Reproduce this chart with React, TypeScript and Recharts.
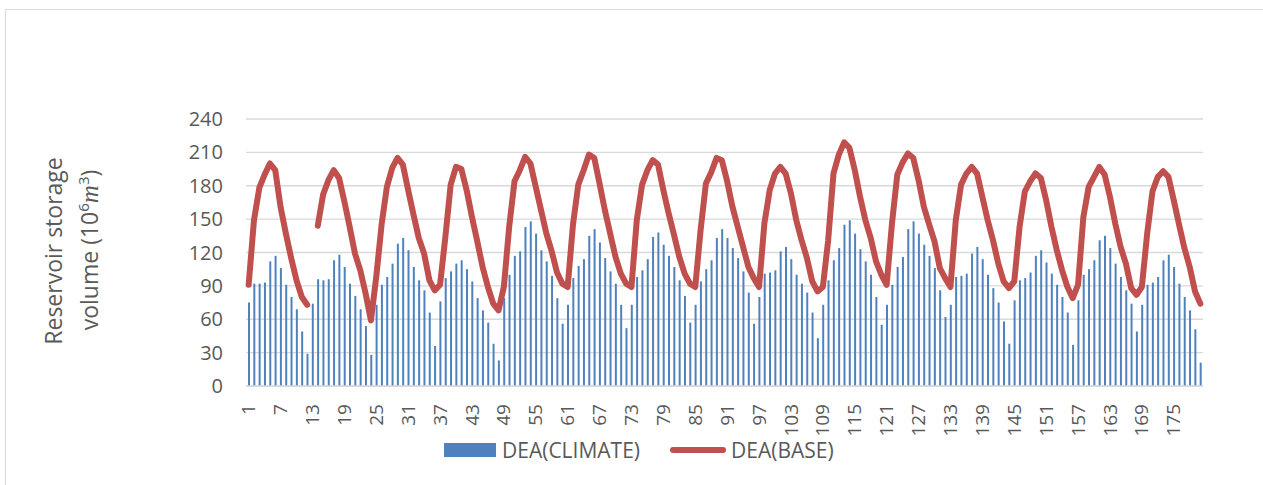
import { Bar, CartesianGrid, ComposedChart, Legend, Line, XAxis, YAxis } from 'recharts';

// month index 1..180
const periods = Array.from({ length: 180 }, (_, i) => String(i + 1));

const climate = [
  75, 92, 92, 93, 112, 117, 106, 91, 80, 69, 49, 29, 74, 96, 95, 96, 113, 118, 107, 92,
  81, 69, 54, 28, 73, 91, 98, 110, 128, 133, 122, 107, 95, 86, 66, 36, 76, 97, 103, 110,
  113, 105, 94, 79, 68, 57, 38, 23, 79, 100, 117, 121, 143, 148, 137, 122, 112, 99, 79, 56,
  73, 97, 108, 114, 135, 141, 129, 115, 103, 92, 73, 52, 73, 98, 104, 114, 134, 138, 127, 117,
  107, 95, 81, 57, 73, 94, 105, 113, 133, 141, 133, 124, 115, 103, 84, 56, 80, 101, 102, 104,
  121, 125, 114, 100, 92, 84, 66, 43, 73, 95, 113, 124, 145, 149, 137, 123, 112, 100, 80, 55,
  73, 91, 107, 116, 141, 148, 137, 127, 117, 106, 86, 62, 73, 98, 99, 101, 119, 125, 114, 100,
  88, 75, 58, 38, 77, 95, 97, 102, 117, 122, 111, 101, 91, 80, 66, 37, 77, 100, 105, 113,
  131, 135, 124, 110, 98, 86, 74, 49, 73, 91, 93, 98, 113, 118, 107, 92, 80, 68, 51, 21,
];

const base: (number | null)[] = [
  91, 149, 178, 190, 200, 194, 161, 137, 115, 95, 80, 73, null, 144, 172, 185, 194, 187, 166, 143,
  119, 104, 83, 59, 98, 145, 179, 196, 205, 199, 176, 154, 133, 119, 95, 86, 91, 134, 181, 197,
  195, 176, 152, 130, 107, 89, 74, 68, 89, 143, 184, 194, 206, 200, 179, 158, 137, 121, 102, 92,
  89, 145, 181, 194, 208, 205, 182, 158, 137, 116, 101, 92, 89, 149, 181, 194, 203, 199, 176, 155,
  136, 116, 101, 92, 89, 140, 182, 192, 205, 203, 184, 161, 143, 125, 107, 97, 89, 146, 176, 191,
  197, 191, 173, 149, 131, 115, 94, 85, 89, 131, 191, 208, 219, 214, 194, 170, 149, 133, 112, 100,
  91, 146, 190, 201, 209, 205, 185, 161, 145, 130, 106, 97, 89, 149, 181, 191, 197, 191, 170, 149,
  131, 110, 94, 88, 94, 143, 175, 184, 191, 187, 167, 143, 122, 104, 89, 79, 91, 152, 179, 188,
  197, 190, 170, 146, 125, 110, 88, 82, 89, 137, 175, 188, 193, 188, 167, 145, 124, 107, 85, 74,
];

const yTicks = [0, 30, 60, 90, 120, 150, 180, 210, 240];

const data = periods.map((p, i) => ({ period: p, climate: climate[i], base: base[i] }));

const FONT = '"Open Sans", sans-serif';
const GRAY = '#595959';
const BLUE = '#4F81BD';
const RED = '#C0504D';
const GRID = '#d9d9d9';

function XTick({ x, y, payload }: any) {
  return (
    <text
      x={x}
      y={y}
      transform={`rotate(-90, ${x}, ${y})`}
      textAnchor="end"
      dy="0.35em"
      fontSize={19}
      fill={GRAY}
      fontFamily={FONT}
    >
      {payload.value}
    </text>
  );
}

function AxisTitle() {
  return (
    <g fill={GRAY} fontFamily={FONT} fontSize={23}>
      <text x={54} y={251} transform="rotate(-90, 54, 251)" textAnchor="middle" dy="0.35em">
        Reservoir storage
      </text>
      <text x={90} y={250} transform="rotate(-90, 90, 250)" textAnchor="middle" dy="0.35em">
        volume (10
        <tspan dy={-9} fontSize={15}>6</tspan>
        <tspan dy={9} fontStyle="italic" fontFamily='"Liberation Serif", serif' fontSize={25}>m</tspan>
        <tspan dy={-9} fontSize={15}>3</tspan>
        <tspan dy={9}>)</tspan>
      </text>
    </g>
  );
}

function LegendBox() {
  return (
    <div
      style={{
        display: 'flex',
        alignItems: 'center',
        fontFamily: FONT,
        fontSize: 21,
        color: GRAY,
        whiteSpace: 'nowrap',
      }}
    >
      <span style={{ width: 52, height: 14, background: BLUE, marginRight: 6 }} />
      <span>DEA(CLIMATE)</span>
      <span style={{ width: 56, height: 6, background: RED, borderRadius: 3, marginLeft: 30, marginRight: 5 }} />
      <span>DEA(BASE)</span>
    </div>
  );
}

export default function App() {
  return (
    <div style={{ position: 'absolute', left: 0, top: 0, width: 1263, height: 485, background: '#fff' }}>
      <div
        style={{
          position: 'absolute',
          left: 5,
          top: 9,
          right: 0,
          bottom: 0,
          borderTop: `1.5px solid ${GRID}`,
          borderLeft: `1.5px solid ${GRID}`,
        }}
      />
      <div style={{ position: 'absolute', left: 0, top: 0 }}>
        <ComposedChart width={1263} height={485} data={data} margin={{ top: 119, right: 60, bottom: 0, left: 0 }}>
          <CartesianGrid vertical={false} stroke={GRID} strokeWidth={1.3} />
          <XAxis
            dataKey="period"
            interval={5}
            tickLine={false}
            axisLine={{ stroke: GRID, strokeWidth: 1.3 }}
            height={99}
            tickMargin={12}
            tick={<XTick />}
          />
          <YAxis
            width={246}
            domain={[0, 240]}
            ticks={yTicks}
            axisLine={false}
            tickLine={false}
            tickMargin={17}
            tick={{ fontSize: 20, fill: GRAY, fontFamily: FONT }}
            label={{ content: () => <AxisTitle /> }}
          />
          <Legend
            verticalAlign="middle"
            align="center"
            layout="horizontal"
            wrapperStyle={{ left: 444, top: 436, width: 600 }}
            content={() => <LegendBox />}
          />
          <Bar dataKey="climate" name="DEA(CLIMATE)" fill={BLUE} barSize={2} isAnimationActive={false} />
          <Line
            type="linear"
            dataKey="base"
            name="DEA(BASE)"
            stroke={RED}
            strokeWidth={6}
            strokeLinecap="round"
            strokeLinejoin="round"
            dot={false}
            activeDot={false}
            connectNulls={false}
            isAnimationActive={false}
          />
        </ComposedChart>
      </div>
    </div>
  );
}
